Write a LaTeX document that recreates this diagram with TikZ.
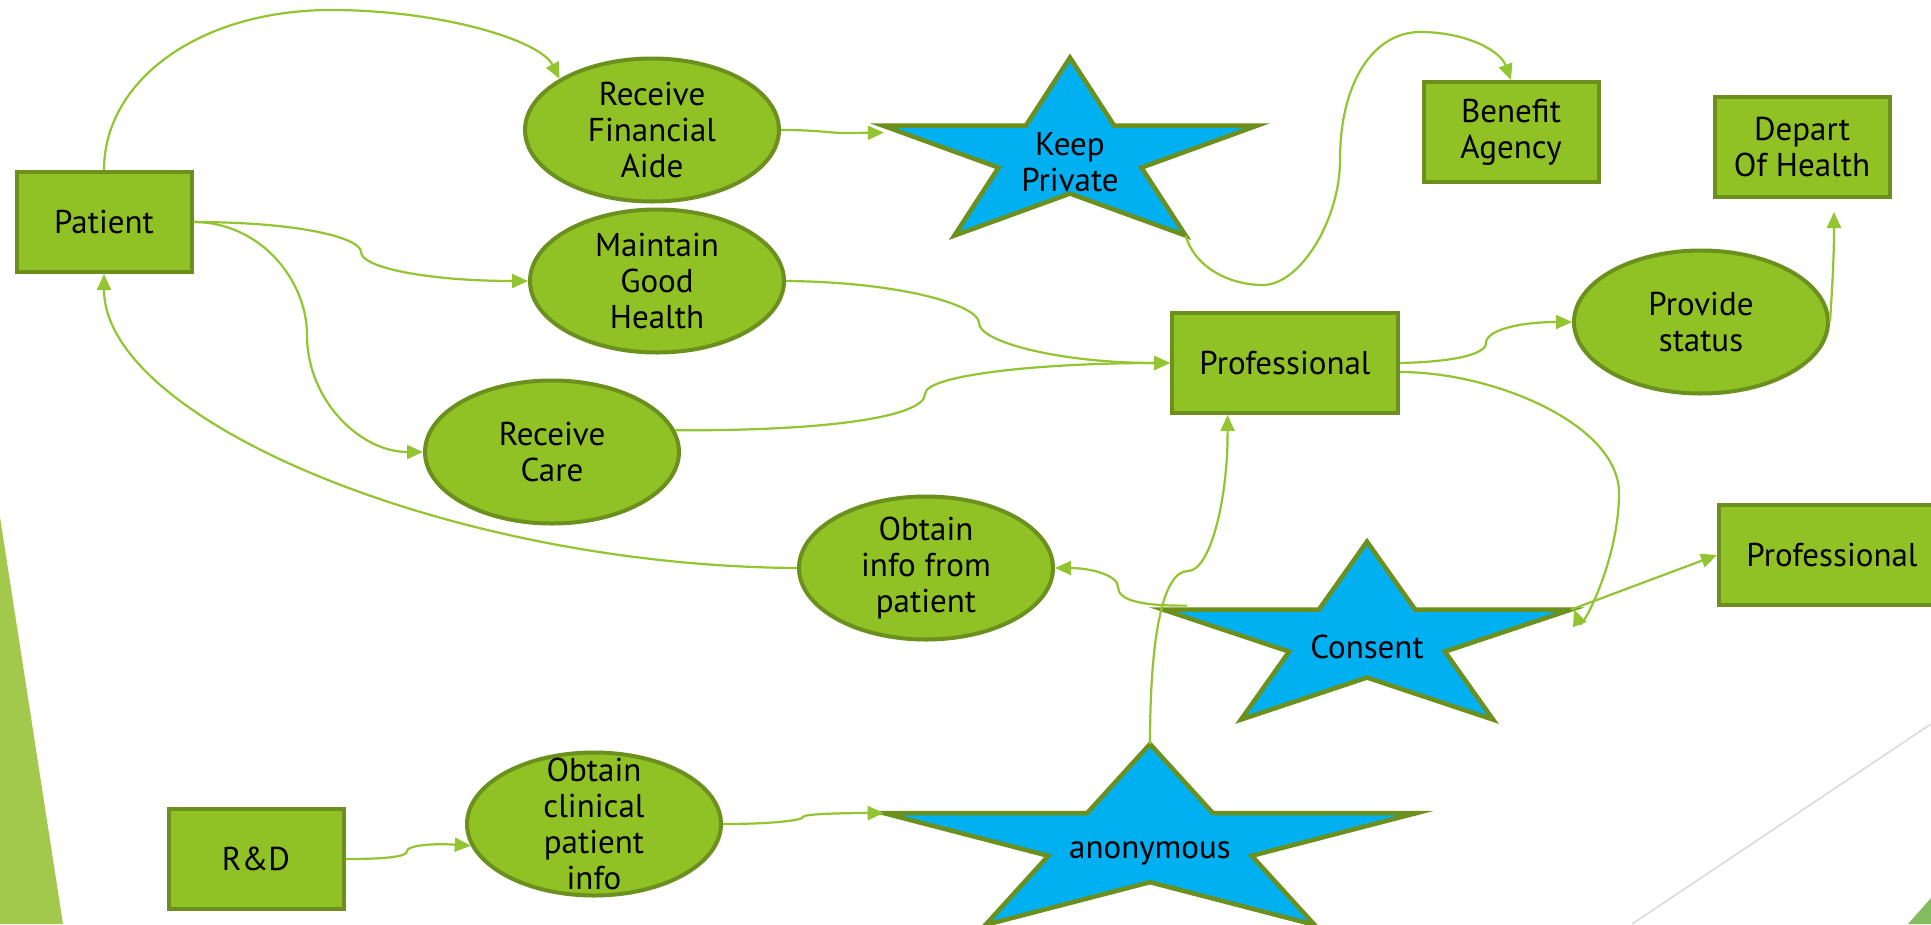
\documentclass[tikz,border=0pt]{standalone}
\usepackage{fontspec}
\setmainfont{PT Sans}
\usetikzlibrary{arrows.meta,calc,shapes.geometric}

\definecolor{leaf}{HTML}{90C226}
\definecolor{leafdark}{HTML}{6B901D}
\definecolor{wire}{HTML}{93C431}
\definecolor{sky}{HTML}{00B0F0}
\definecolor{bandlight}{HTML}{A2C94B}
\definecolor{banddark}{HTML}{82BC5C}
\definecolor{hairline}{HTML}{D9D9D9}

\newcommand\diagfont{\fontsize{33}{36}\selectfont}

\tikzset{
  box/.style={draw=leafdark, fill=leaf, line width=4pt, minimum width=175pt,
    minimum height=100pt, inner sep=0pt, align=center, font=\diagfont},
  oval/.style={ellipse, draw=leafdark, fill=leaf, line width=4pt,
    minimum width=254pt, minimum height=143pt, inner sep=0pt},
  txt/.style={inner sep=0pt, align=center, font=\diagfont},
  starline/.style={draw=leafdark, fill=sky, line width=4.5pt},
  link/.style={draw=wire, line width=2.2pt},
  arrowed/.style={link, -{Triangle[length=16pt,width=14pt]}}
}

% five-pointed star: name, centre x, centre y, outer radius, horizontal stretch
\newcommand\starpath[5]{%
  \begin{scope}[shift={(#2,#3)}, xscale=#5, yscale=-1]
    \draw[starline] (90:#4) -- (126:{0.382*#4}) -- (162:#4) -- (198:{0.382*#4})
      -- (234:#4) -- (270:{0.382*#4}) -- (306:#4) -- (342:{0.382*#4})
      -- (18:#4) -- (54:{0.382*#4}) -- cycle;
    \coordinate (#1-top) at (90:#4);
    \coordinate (#1-left) at (162:#4);
    \coordinate (#1-right) at (18:#4);
    \coordinate (#1-bl) at (234:#4);
    \coordinate (#1-br) at (306:#4);
  \end{scope}}

\begin{document}
\begin{tikzpicture}[x=1pt, y=-1pt]
  \useasboundingbox (0,0) rectangle (1931,924);
  \clip (0,0) rectangle (1931,924);
  \fill[white] (0,0) rectangle (1931,924);

  % slide decoration
  \fill[bandlight] (0,517) -- (63,924) -- (0,924) -- cycle;
  \draw[hairline, line width=1.5pt] (1931,724) -- (1632,924);
  \fill[banddark] (1931,898) -- (1931,924) -- (1908,924) -- cycle;

  % stars
  \starpath{kp}{1070}{156}{98.4}{2.0}
  \starpath{cons}{1367}{640}{98.4}{2.18}
  \starpath{anon}{1150}{844}{100}{2.8}
  \node[txt] (kp-t) at (1070,162) {Keep\\Private};
  \node[txt] (cons-t) at (1367,647) {Consent};
  \node[txt] (anon-t) at (1150,853) {anonymous};

  % boxes
  \node[box] (pat) at (104,222) {Patient};
  \node[box] (ba) at (1511,132) {Benefit\\Agency};
  \node[box] (doh) at (1802,147) {Depart\\Of Health};
  \node[box, minimum width=226pt] (pro) at (1285,363) {Professional};
  \node[box, minimum width=226pt] (pro2) at (1832,555) {Professional};
  \node[box] (rd) at (256,859) {R\&D};

  % ellipses
  \node[oval] (rfa) at (652,130) {};
  \node[txt] (rfa-t) at (rfa) {Receive\\Financial\\Aide};
  \node[oval] (mgh) at (657,281) {};
  \node[txt] (mgh-t) at (mgh) {Maintain\\Good\\Health};
  \node[oval] (rc) at (552,452) {};
  \node[txt] (rc-t) at (rc) {Receive\\Care};
  \node[oval] (oip) at (926,568) {};
  \node[txt] (oip-t) at (oip) {Obtain\\info from\\patient};
  \node[oval] (ocpi) at (594,824) {};
  \node[txt] (ocpi-t) at (ocpi) {Obtain\\clinical\\patient\\info};
  \node[oval] (ps) at (1701,322) {};
  \node[txt] (ps-t) at (ps) {Provide\\status};

  % connectors
  \draw[arrowed] (pat.north) .. controls (104,80) and (200,10) .. (331,10)
    .. controls (440,10) and (540,40) .. (rfa.151);
  \draw[arrowed] (rfa.east) .. controls (820,130) and (828,133) .. (845,133)
    -- ($(kp-left)+(1,7)$);
  \draw[arrowed] (kp-br) .. controls (1195,268) and (1230,285) .. (1263,285)
    .. controls (1300,285) and (1340,220) .. (1340,160)
    .. controls (1340,80) and (1375,32) .. (1420,32)
    .. controls (1465,32) and (1500,50) .. (ba.north);
  \draw[arrowed] (pat.east) .. controls (300,222) and (361,238) .. (361,252)
    .. controls (361,268) and (430,281) .. (mgh.west);
  \draw[arrowed] (pat.east) .. controls (260,222) and (307,280) .. (307,335)
    .. controls (307,400) and (360,452) .. (rc.west);
  \draw[arrowed] (oip.west) .. controls (450,566) and (104,420) .. (pat.south);
  \draw[arrowed] (mgh.east) .. controls (900,282) and (979,305) .. (979,323)
    .. controls (979,342) and (1060,363) .. (pro.west);
  \draw[arrowed] (rc.10) .. controls (840,431) and (925,415) .. (925,394)
    .. controls (925,375) and (1040,363) .. (pro.west);
  \draw[arrowed] (pro.east) .. controls (1450,362) and (1486,355) .. (1486,343)
    .. controls (1486,330) and (1520,322) .. (ps.west);
  \draw[arrowed, shorten >=13pt] (ps.east) .. controls (1832,290) and (1834,260)
    .. ($(doh.south)+(32,0)$);
  \draw[arrowed] ($(pro.east)+(0,9)$) .. controls (1495,372) and (1619,425) .. (1619,493)
    .. controls (1619,560) and (1582,630) .. ($(cons-right)+(3,0)$);
  \draw[arrowed] (cons-right) -- (pro2.west);
  \draw[arrowed] ($(cons-left)+(24,-4)$) .. controls (1140,606) and (1118,600) .. (1118,587)
    .. controls (1118,575) and (1090,568) .. (oip.east);
  \draw[arrowed] (anon-top) .. controls (1150,640) and (1162,571) .. (1188,571)
    .. controls (1210,571) and (1228,500) .. ($(pro.south west)!0.25!(pro.south east)$);
  \draw[arrowed] (ocpi.east) .. controls (775,824) and (803,820) .. (803,817)
    .. controls (803,814) and (840,813) .. (anon-left);
  \draw[arrowed] (rd.east) .. controls (392,859) and (407,856) .. (407,851)
    .. controls (407,846) and (430,843) .. (ocpi.190);
\end{tikzpicture}
\end{document}
